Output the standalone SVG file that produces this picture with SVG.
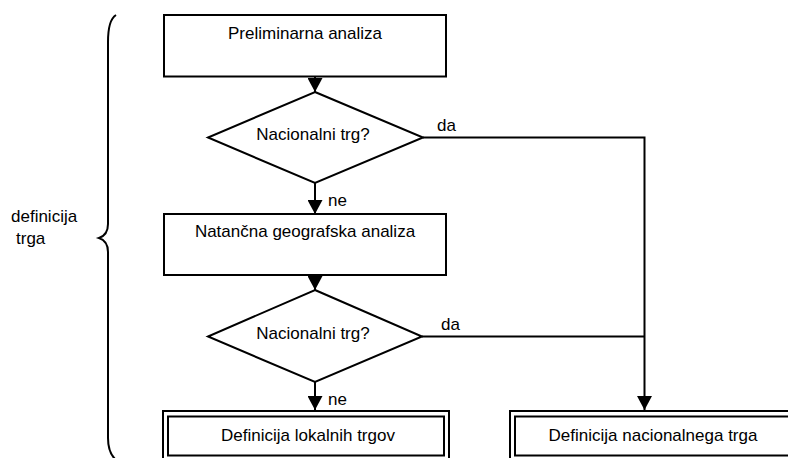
<svg xmlns="http://www.w3.org/2000/svg" width="788" height="458" viewBox="0 0 788 458">
  <defs>
    <style>
      .box { fill: #fff; stroke: #000; stroke-width: 2; }
      .line { fill: none; stroke: #000; stroke-width: 2; }
      .t { font-family: "Liberation Sans", Arial, sans-serif; font-size: 17px; fill: #000; }
      .c { text-anchor: middle; }
    </style>
    <marker id="arr" markerUnits="userSpaceOnUse" markerWidth="16" markerHeight="15" refX="15" refY="8" orient="auto" viewBox="0 0 15 16">
      <polygon points="0,0 15,8 0,16" fill="#000"/>
    </marker>
  </defs>
  <rect width="788" height="458" fill="#fff"/>

  <g id="brace">
    <path class="line" d="M116,15 Q108,20 108,42 L108,224 Q108,235 99,238 Q108,241 108,252 L108,438 Q108,452 115,459"/>
    <text class="t" x="11" y="222">definicija</text>
    <text class="t" x="16" y="244">trga</text>
  </g>

  <g id="connectors">
    <line class="line" x1="315" y1="77" x2="315" y2="92" marker-end="url(#arr)"/>
    <line class="line" x1="315" y1="183" x2="315" y2="214" marker-end="url(#arr)"/>
    <line class="line" x1="315" y1="275" x2="315" y2="290" marker-end="url(#arr)"/>
    <line class="line" x1="315" y1="382" x2="315" y2="410" marker-end="url(#arr)"/>
    <polyline class="line" points="423,137.5 644.5,137.5 644.5,410" marker-end="url(#arr)"/>
    <line class="line" x1="422" y1="336.5" x2="644.5" y2="336.5"/>
    <text class="t" x="328" y="206">ne</text>
    <text class="t" x="328" y="405">ne</text>
    <text class="t" x="437" y="131">da</text>
    <text class="t" x="441" y="330">da</text>
  </g>

  <g id="n1">
    <rect class="box" x="164" y="15" width="282" height="61.5"/>
    <text class="t c" x="305" y="39">Preliminarna analiza</text>
  </g>

  <g id="n2">
    <polygon class="box" points="315,92 423,137.5 315,183 208,137.5"/>
    <text class="t c" x="313" y="140">Nacionalni trg?</text>
  </g>

  <g id="n3">
    <rect class="box" x="164" y="214" width="282" height="61"/>
    <text class="t c" x="305" y="237">Natančna geografska analiza</text>
  </g>

  <g id="n4">
    <polygon class="box" points="315,290 422,336.5 315,382 208,336.5"/>
    <text class="t c" x="313" y="339">Nacionalni trg?</text>
  </g>

  <g id="n5">
    <rect class="box" x="163" y="411" width="286" height="51"/>
    <rect class="box" x="168" y="416.5" width="276" height="39"/>
    <text class="t c" x="308" y="441">Definicija lokalnih trgov</text>
  </g>

  <g id="n6">
    <rect class="box" x="510" y="411" width="290" height="51"/>
    <rect class="box" x="515" y="416.5" width="280" height="39"/>
    <text class="t c" x="653" y="441">Definicija nacionalnega trga</text>
  </g>
</svg>
